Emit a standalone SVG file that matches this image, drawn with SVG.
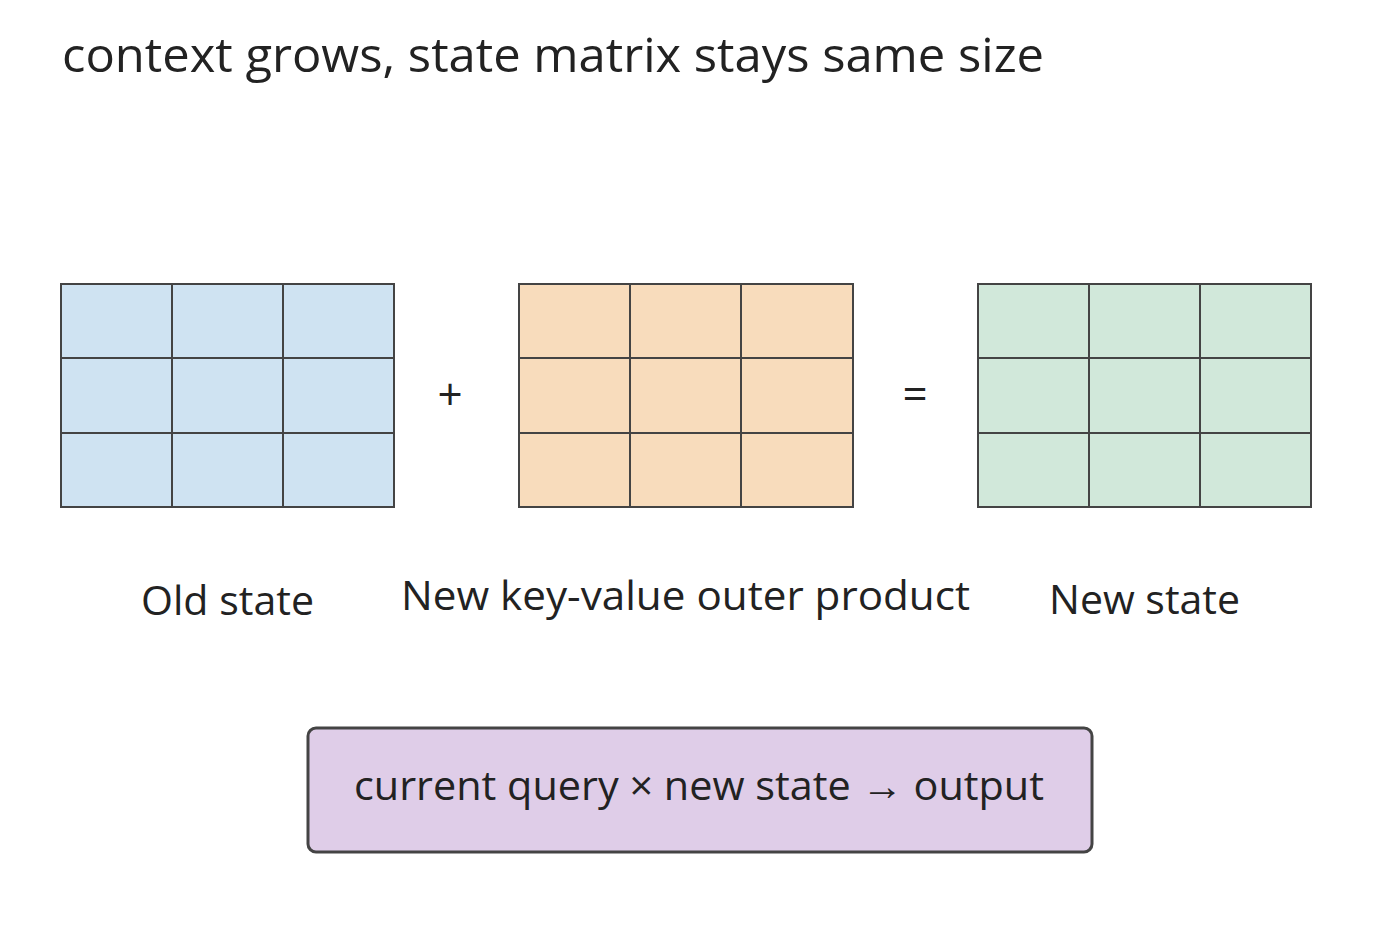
<svg xmlns="http://www.w3.org/2000/svg" width="1400" height="940" viewBox="0 0 1400 940">
<style>
text{font-family:"Open Sans","Noto Sans",sans-serif;fill:#222}
.g line,.g rect{stroke:#444;stroke-width:2}
.lbl{font-size:40px}
</style>
<rect width="1400" height="940" fill="#fff"/>
<text x="62" y="72" font-size="48" textLength="982" lengthAdjust="spacingAndGlyphs">context grows, state matrix stays same size</text>
<g id="old" class="g">
<rect x="61" y="284" width="333" height="223" fill="#cfe3f2"/>
<line x1="172" y1="284" x2="172" y2="507"/><line x1="283" y1="284" x2="283" y2="507"/>
<line x1="61" y1="358" x2="394" y2="358"/><line x1="61" y1="433" x2="394" y2="433"/>
<text class="lbl" x="141" y="615" textLength="173" lengthAdjust="spacingAndGlyphs">Old state</text>
</g>
<text x="450" y="410" font-size="44" text-anchor="middle">+</text>
<g id="kv" class="g">
<rect x="519" y="284" width="334" height="223" fill="#f8dcbc"/>
<line x1="630" y1="284" x2="630" y2="507"/><line x1="741" y1="284" x2="741" y2="507"/>
<line x1="519" y1="358" x2="853" y2="358"/><line x1="519" y1="433" x2="853" y2="433"/>
<text class="lbl" x="401" y="610" textLength="569" lengthAdjust="spacingAndGlyphs">New key-value outer product</text>
</g>
<text x="915" y="410" font-size="44" text-anchor="middle">=</text>
<g id="new" class="g">
<rect x="978" y="284" width="333" height="223" fill="#d1e8da"/>
<line x1="1089" y1="284" x2="1089" y2="507"/><line x1="1200" y1="284" x2="1200" y2="507"/>
<line x1="978" y1="358" x2="1311" y2="358"/><line x1="978" y1="433" x2="1311" y2="433"/>
<text class="lbl" x="1049" y="614" textLength="191" lengthAdjust="spacingAndGlyphs">New state</text>
</g>
<g id="out">
<rect x="308" y="728" width="784" height="124" rx="8" fill="#dfcde8" stroke="#444" stroke-width="3"/>
<text class="lbl" x="354" y="800" textLength="690" lengthAdjust="spacingAndGlyphs">current query × new state → output</text>
</g>
<g id="connectors"/>
</svg>
